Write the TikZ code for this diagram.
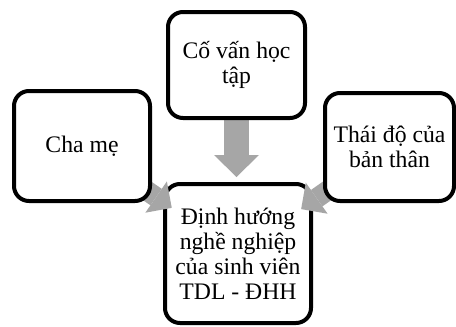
\documentclass[tikz,border=0pt]{standalone}
\usepackage{fontspec}
\setmainfont{Liberation Serif}
\usetikzlibrary{arrows.meta,calc}
\definecolor{arrowgray}{HTML}{A6A6A6}
\pgfdeclarelayer{base}
\pgfdeclarelayer{arrows}
\pgfsetlayers{base,arrows,main}

\begin{document}
\begin{tikzpicture}[x=1pt,y=-1pt,
  box/.style={draw=black, line width=4pt, fill=white, rounded corners=15pt,
    inner sep=0pt, align=center, font=\fontsize{23.7}{25}\selectfont},
  flow/.style={draw=arrowgray, line width=20pt,
    -{Triangle[length=19pt,width=38pt,line width=0pt]}},
  downflow/.style={draw=arrowgray, line width=25pt,
    -{Triangle[length=22pt,width=45pt,line width=0pt]}}]
  \useasboundingbox (0,0) rectangle (456,327);

  % central box sits under the arrow heads
  \begin{pgfonlayer}{base}
    \node[box, minimum width=146pt, minimum height=139pt] (dinh) at (238,253.5)
      {Định hướng\\nghề nghiệp\\của sinh viên\\TDL - ĐHH};
  \end{pgfonlayer}

  % influencing factors
  \node[box, minimum width=136pt, minimum height=110pt] (cha) at (82,146) {Cha mẹ};
  \node[box, minimum width=137pt, minimum height=106pt] (covan) at (236.5,65)
    {Cố vấn học\\tập};
  \node[box, minimum width=129pt, minimum height=108pt] (thaido) at (389.5,147)
    {Thái độ của\\bản thân};

  % arrow ends
  \coordinate (tipcha) at ($(cha.center)!109pt!(dinh.center)$);
  \coordinate (tipthaido) at ($(thaido.center)!108pt!(dinh.center)$);
  \coordinate (tipcovan) at ($(covan.south)+(0,57)$);

  \begin{pgfonlayer}{arrows}
    \draw[flow] (cha.center) -- (tipcha);
    \draw[flow] (thaido.center) -- (tipthaido);
    \draw[downflow] (covan.south) -- (tipcovan);
  \end{pgfonlayer}
\end{tikzpicture}
\end{document}
